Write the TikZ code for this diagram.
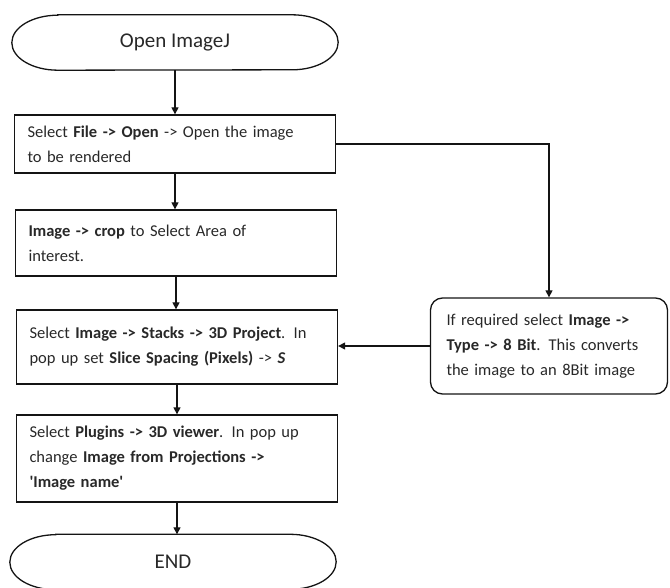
\documentclass[tikz,border=0pt]{standalone}
\usepackage{fontspec}
\setmainfont{Carlito}
\usetikzlibrary{positioning,arrows.meta}
\definecolor{inktext}{RGB}{40,40,40}
\definecolor{inkline}{RGB}{20,20,20}

\begin{document}
\begin{tikzpicture}[x=1pt, y=-1pt, >={Triangle[length=7pt,width=7pt]},
    every node/.style={text=inktext},
    term/.style={minimum width=326pt, minimum height=55pt, inner sep=0pt,
        font=\fontsize{21}{25}\selectfont},
    stepbox/.style={draw=inkline, line width=1.3pt, align=left, anchor=center,
        text width=295pt, inner xsep=13pt, inner ysep=0pt,
        font=\fontsize{16.5}{25}\selectfont},
    sidebox/.style={stepbox, rounded corners=12pt, text width=205pt, inner xsep=16pt},
    flow/.style={->, draw=inkline, line width=1.3pt}]

    % page size of the reference
    \useasboundingbox (0,0) rectangle (670,588);

    % =========================================================================
    % TERMINALS
    % =========================================================================
    \node[term] (start) at (175, 42.5) {Open ImageJ};
    \node[term] (stop) at (173, 562) {END};

    % contour en stade (extremites elliptiques)
    \foreach \t in {start, stop} {
        \draw[inkline, line width=1.3pt]
            ([xshift=46pt]\t.north west) -- ([xshift=-46pt]\t.north east)
            arc[start angle=90, end angle=-90, x radius=46pt, y radius=27.5pt]
            -- ([xshift=46pt]\t.south west)
            arc[start angle=270, end angle=90, x radius=46pt, y radius=27.5pt]
            -- cycle;
    }

    % =========================================================================
    % ETAPES
    % =========================================================================
    \node[stepbox, minimum height=58pt] (open) at (175, 144)
        {Select \textbf{File -> Open} -> Open the image\\to be rendered};
    \node[stepbox, minimum height=66pt] (crop) at (176, 243)
        {\textbf{Image -> crop} to Select Area of\\interest.};
    \node[stepbox, minimum height=74pt] (proj) at (177, 347)
        {Select \textbf{Image -> Stacks -> 3D Project}. In\\pop up set \textbf{Slice Spacing (Pixels)} -> \textbf{\textit{S}}};
    \node[stepbox, minimum height=87pt] (view) at (177, 458.5)
        {Select \textbf{Plugins -> 3D viewer}. In pop up\\change \textbf{Image from Projections ->}\\\textbf{\textquotesingle Image name\textquotesingle}};

    % etape optionnelle (8 bit)
    \node[sidebox, minimum height=96pt] (conv) at (549, 346)
        {If required select \textbf{Image ->}\\\textbf{Type -> 8 Bit}. This converts\\the image to an 8Bit image};

    % =========================================================================
    % FLECHES
    % =========================================================================
    \draw[flow] (start.south) -- (start.south |- open.north);
    \draw[flow] (open.south) -- (open.south |- crop.north);
    \draw[flow] (crop.south) -- (crop.south |- proj.north);
    \draw[flow] (proj.south) -- (proj.south |- view.north);
    \draw[flow] (view.south) -- (view.south |- stop.north);
    \draw[flow] (open.east) -| (conv.north);
    \draw[flow] (conv.west) -- (conv.west -| proj.east);

\end{tikzpicture}
\end{document}
